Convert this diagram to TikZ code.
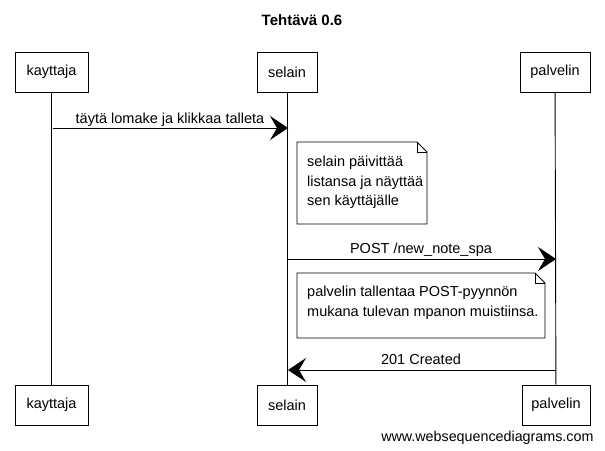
\documentclass[tikz,border=0pt]{standalone}
\usepackage{fontspec}
\setmainfont{Liberation Sans}
\usetikzlibrary{arrows.meta}

\begin{document}
\begin{tikzpicture}[x=1pt,y=-1pt,
  actor/.style={draw, line width=0.9pt, minimum height=40pt, inner sep=0pt, font=\fontsize{14.5}{16}\selectfont},
  msg/.style={line width=1pt, -{Stealth[length=18pt,width=24pt,inset=7pt]}},
  lbl/.style={font=\fontsize{14.5}{16}\selectfont, anchor=base},
  notetext/.style={font=\fontsize{14.5}{19.5}\selectfont, align=left, anchor=north west, inner sep=0pt}]
        % Sequence diagram
        \useasboundingbox (0,0) rectangle (605,450);
        \node[font=\bfseries\fontsize{15}{17}\selectfont] (title) at (302,20) {Tehtävä 0.6};
        \node[actor, minimum width=73pt] (kayttajaT) at (51.5,72) {kayttaja};
        \node[actor, minimum width=60pt] (selainT) at (287,72) {selain};
        \node[actor, minimum width=70pt] (palvelinT) at (555,72) {palvelin};
        \node[actor, minimum width=73pt] (kayttajaB) at (51.5,405) {kayttaja};
        \node[actor, minimum width=60pt] (selainB) at (287,405) {selain};
        \node[actor, minimum width=68pt] (palvelinB) at (556,405) {palvelin};
        \draw[line width=0.9pt] (kayttajaT) -- (kayttajaB);
        \draw[line width=0.9pt] (selainT) -- (selainB);
        \draw[line width=0.9pt] (palvelinT) -- (palvelinB);
        % messages
        \coordinate (m1a) at (53,128);
        \coordinate (m1b) at (288,128);
        \draw[msg] (m1a) -- (m1b);
        \node[lbl] (m1) at (170,123) {täytä lomake ja klikkaa talleta};
        \coordinate (m2a) at (288,259);
        \coordinate (m2b) at (556,259);
        \draw[msg] (m2a) -- (m2b);
        \node[lbl] (m2) at (421,253) {POST /new\_note\_spa};
        \coordinate (m3a) at (556,370);
        \coordinate (m3b) at (288,370);
        \draw[msg] (m3a) -- (m3b);
        \node[lbl] (m3) at (421,364) {201 Created};
        % notes
        \draw[fill=white, line width=0.9pt] (297,142) -- (417,142) -- (427,152) -- (427,224) -- (297,224) -- cycle;
        \draw[line width=0.6pt] (417,142) -- (417,152) -- (427,152);
        \node[notetext] (note1) at (307,156) {selain päivittää\\listansa ja näyttää\\sen käyttäjälle};
        \draw[fill=white, line width=0.9pt] (297,273) -- (535,273) -- (545,283) -- (545,338) -- (297,338) -- cycle;
        \draw[line width=0.6pt] (535,273) -- (535,283) -- (545,283);
        \node[notetext] (note2) at (307,286) {palvelin tallentaa POST-pyynnön\\mukana tulevan mpanon muistiinsa.};
        \node[font=\fontsize{14.3}{16}\selectfont, anchor=base east] (footer) at (597,441) {www.websequencediagrams.com};
    \end{tikzpicture}
\end{document}
